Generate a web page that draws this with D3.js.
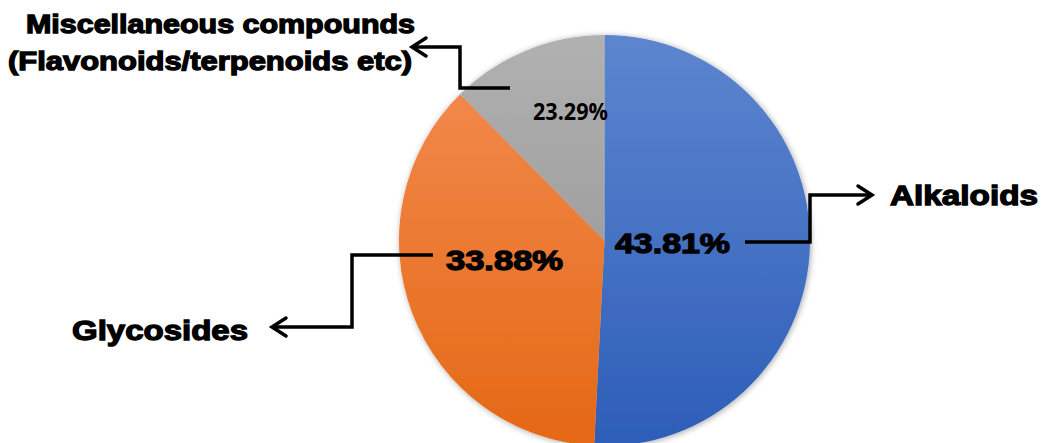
<!DOCTYPE html>
<html>
<head>
<meta charset="utf-8">
<script src="https://cdn.jsdelivr.net/npm/d3@7"></script>
<style>
  html, body { margin: 0; padding: 0; background: #fff; }
  svg { display: block; }
</style>
</head>
<body>
<svg id="chart" width="1042" height="443"></svg>
<script>
// Data (slice sizes as drawn, labels as printed)
const categories = ["Alkaloids", "Glycosides", "Miscellaneous compounds"];
const sliceValues = [50.8, 36.8, 12.4];
const percentLabels = ["43.81%", "33.88%", "23.29%"];
const topColors = ["#5D85CF", "#F38D52", "#B1B1B1"];
const bottomColors = ["#2D5EB8", "#E56815", "#8E8E8E"];

const svg = d3.select("#chart");
const cx = 604.5, cy = 240.5, R = 205.5;

const defs = svg.append("defs");
categories.forEach((c, i) => {
  const g = defs.append("linearGradient")
    .attr("id", "grad" + i)
    .attr("gradientUnits", "userSpaceOnUse")
    .attr("x1", 0).attr("y1", -R).attr("x2", 0).attr("y2", R);
  g.append("stop").attr("offset", "0%").attr("stop-color", topColors[i]);
  g.append("stop").attr("offset", "100%").attr("stop-color", bottomColors[i]);
});
const f = defs.append("filter").attr("id", "shadow")
  .attr("x", "-10%").attr("y", "-10%").attr("width", "120%").attr("height", "120%");
f.append("feGaussianBlur").attr("in", "SourceAlpha").attr("stdDeviation", 3).attr("result", "b");
f.append("feOffset").attr("in", "b").attr("dx", 1).attr("dy", 1).attr("result", "o");
f.append("feComponentTransfer").attr("in", "o").attr("result", "o2")
  .append("feFuncA").attr("type", "linear").attr("slope", 0.35);
const fm = f.append("feMerge");
fm.append("feMergeNode").attr("in", "o2");
fm.append("feMergeNode").attr("in", "SourceGraphic");

const pie = d3.pie().sort(null).value(d => d)(sliceValues);
const arc = d3.arc().innerRadius(0).outerRadius(R);

const g = svg.append("g").attr("transform", `translate(${cx},${cy})`);
g.append("g").attr("filter", "url(#shadow)")
  .selectAll("path").data(pie).join("path")
  .attr("d", arc)
  .attr("fill", (d, i) => `url(#grad${i})`);

// Percent labels
const fontBold = "'Liberation Sans', Arial, sans-serif";
const pctPos = [
  { x: 615, y: 253, size: 28, len: 115, font: fontBold, sw: 1.3 },
  { x: 446, y: 270, size: 28, len: 117, font: fontBold, sw: 1.3 },
  { x: 533, y: 120, size: 23, len: 75, font: "'Open Sans', sans-serif", sw: 0 }
];
svg.selectAll("text.pct").data(percentLabels).join("text")
  .attr("class", "pct")
  .attr("x", (d, i) => pctPos[i].x)
  .attr("y", (d, i) => pctPos[i].y)
  .attr("font-family", (d, i) => pctPos[i].font)
  .attr("font-size", (d, i) => pctPos[i].size)
  .attr("font-weight", "bold")
  .attr("textLength", (d, i) => pctPos[i].len)
  .attr("lengthAdjust", "spacingAndGlyphs")
  .attr("fill", "#000")
  .attr("stroke", (d, i) => pctPos[i].sw ? "#000" : "none")
  .attr("stroke-width", (d, i) => pctPos[i].sw)
  .text(d => d);

// Connector lines with arrowheads
const connectors = [
  [[745, 242], [810, 242], [810, 195], [872, 195]],
  [[433, 255], [352, 255], [352, 327], [272, 327]],
  [[510, 88], [460, 88], [460, 47], [412, 47]]
];
const line = d3.line();
svg.selectAll("path.conn").data(connectors).join("path")
  .attr("class", "conn")
  .attr("d", d => line(d))
  .attr("fill", "none").attr("stroke", "#000").attr("stroke-width", 3.5);

svg.selectAll("path.head").data(connectors).join("path")
  .attr("class", "head")
  .attr("d", d => {
    const p = d[d.length - 1], q = d[d.length - 2];
    const dir = Math.sign(p[0] - q[0]);
    const L = 14, h = 9;
    return line([[p[0] - dir * L, p[1] - h], [p[0], p[1]], [p[0] - dir * L, p[1] + h]]);
  })
  .attr("fill", "none").attr("stroke", "#000").attr("stroke-width", 3.5)
  .attr("stroke-linejoin", "miter").attr("stroke-linecap", "round");

// Category labels
const catLabels = [
  { lines: ["Alkaloids"], x: [890], y: [205], len: [148], size: 28 },
  { lines: ["Glycosides"], x: [72], y: [340], len: [176], size: 28 },
  { lines: ["Miscellaneous compounds", "(Flavonoids/terpenoids etc)"], x: [26, 8], y: [33, 70], len: [389, 404], size: 26 }
];
catLabels.forEach(c => {
  c.lines.forEach((t, j) => {
    svg.append("text")
      .attr("x", c.x[j])
      .attr("y", c.y[j])
      .attr("font-family", fontBold)
      .attr("font-weight", "bold")
      .attr("font-size", c.size)
      .attr("textLength", c.len[j])
      .attr("lengthAdjust", "spacingAndGlyphs")
      .attr("fill", "#000").attr("stroke", "#000").attr("stroke-width", 1.3)
      .text(t);
  });
});
</script>
</body>
</html>
